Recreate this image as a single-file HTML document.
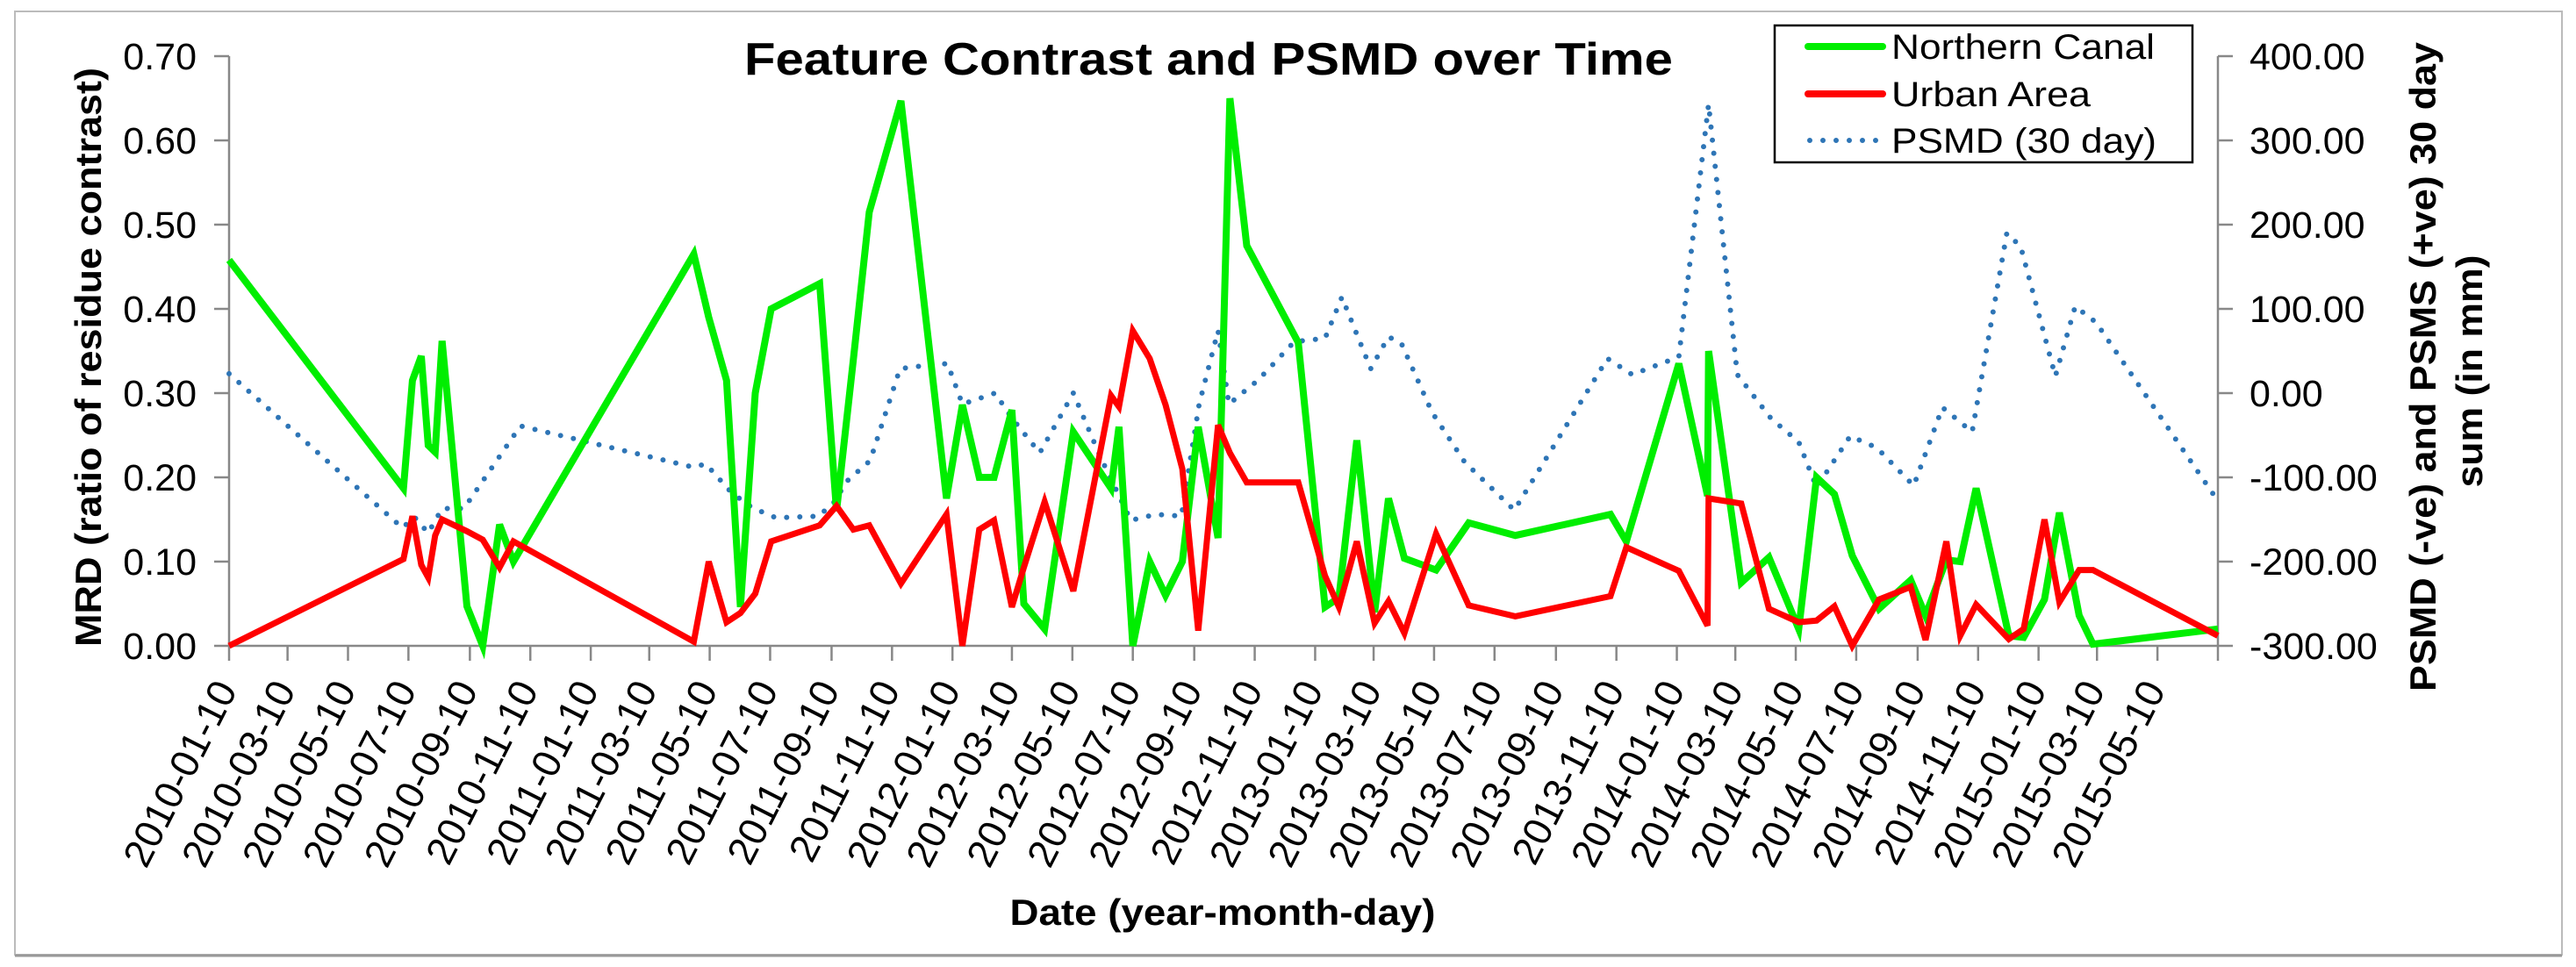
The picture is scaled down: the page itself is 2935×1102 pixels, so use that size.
<!DOCTYPE html>
<html><head><meta charset="utf-8"><style>
html,body{margin:0;padding:0;background:#fff;}
svg{display:block;font-family:"Liberation Sans",Arial,sans-serif;}
</style></head><body>
<svg id="chart" width="2935" height="1102" viewBox="0 0 2935 1102" xmlns="http://www.w3.org/2000/svg">
<rect x="17" y="13" width="2902" height="1075" fill="#fff" stroke="#bbb" stroke-width="2"/>
<line x1="17" y1="1089" x2="2919" y2="1089" stroke="#999" stroke-width="3"/>
<text x="1377" y="85" text-anchor="middle" font-size="52" font-weight="bold" textLength="1058" lengthAdjust="spacingAndGlyphs">Feature Contrast and PSMD over Time</text>
<g id="axes"></g>
<g id="series"></g>
<text transform="translate(115,407) rotate(-90)" text-anchor="middle" font-size="42" font-weight="bold" textLength="660" lengthAdjust="spacingAndGlyphs">MRD (ratio of residue contrast)</text>
<text transform="translate(2775,418) rotate(-90)" text-anchor="middle" font-size="42" font-weight="bold" textLength="740" lengthAdjust="spacingAndGlyphs">PSMD (-ve) and PSMS (+ve) 30 day</text>
<text transform="translate(2828,423) rotate(-90)" text-anchor="middle" font-size="42" font-weight="bold" textLength="265" lengthAdjust="spacingAndGlyphs">sum (in mm)</text>
<text x="1393" y="1054" text-anchor="middle" font-size="42" font-weight="bold" textLength="485" lengthAdjust="spacingAndGlyphs">Date (year-month-day)</text>
<g>
<rect x="2022" y="29" width="476" height="156" fill="#fff" stroke="#000" stroke-width="2.5"/>
<line x1="2060" y1="53" x2="2145" y2="53" stroke="#00ee00" stroke-width="8" stroke-linecap="round"/>
<text x="2155" y="67" font-size="40" textLength="300" lengthAdjust="spacingAndGlyphs">Northern Canal</text>
<line x1="2060" y1="107" x2="2145" y2="107" stroke="#ff0000" stroke-width="8" stroke-linecap="round"/>
<text x="2155" y="121" font-size="40" textLength="227" lengthAdjust="spacingAndGlyphs">Urban Area</text>
<line x1="2062" y1="160" x2="2140" y2="160" stroke="#2e75b6" stroke-width="6" stroke-linecap="round" stroke-dasharray="0 15"/>
<text x="2155" y="174" font-size="40" textLength="302" lengthAdjust="spacingAndGlyphs">PSMD (30 day)</text>
</g>
</svg>
<script>
// ---- data (x = days since 2010-01-10) ----
const canalDays = [0,176,185,194,201,208,215,240,256,273,287,469,484,502,516,531,547,596,613,630,646,678,724,740,757,772,790,802,823,852,890,898,912,929,945,962,978,998,1010,1027,1079,1106,1120,1138,1156,1170,1186,1218,1251,1298,1394,1410,1463,1492,1493,1526,1554,1584,1602,1620,1638,1665,1697,1712,1733,1747,1763,1796,1811,1832,1847,1867,1881,2007];
const canalValues = [0.458,0.187,0.315,0.344,0.238,0.23,0.362,0.047,0.0,0.144,0.10,0.465,0.39,0.315,0.046,0.30,0.40,0.43,0.16,0.34,0.515,0.647,0.175,0.286,0.20,0.20,0.28,0.05,0.02,0.254,0.187,0.26,0.0,0.10,0.06,0.10,0.26,0.128,0.65,0.475,0.36,0.046,0.057,0.244,0.04,0.175,0.104,0.09,0.146,0.131,0.156,0.124,0.335,0.178,0.35,0.075,0.105,0.02,0.20,0.18,0.107,0.044,0.078,0.036,0.102,0.10,0.187,0.012,0.01,0.055,0.158,0.036,0.002,0.02];
const urbanDays = canalDays;
const urbanValues = [0.0,0.103,0.154,0.096,0.081,0.131,0.15,0.136,0.126,0.093,0.124,0.005,0.10,0.028,0.039,0.062,0.124,0.143,0.166,0.138,0.143,0.074,0.156,0.0,0.138,0.149,0.046,0.093,0.171,0.065,0.297,0.284,0.374,0.341,0.286,0.21,0.018,0.262,0.229,0.194,0.194,0.083,0.046,0.124,0.027,0.053,0.015,0.133,0.048,0.035,0.059,0.117,0.089,0.024,0.175,0.169,0.044,0.028,0.03,0.047,0.0,0.055,0.07,0.007,0.124,0.012,0.049,0.008,0.02,0.15,0.052,0.09,0.09,0.012];
const psmdDays = [0,175,187,201,215,237,294,469,481,507,528,552,595,611,623,647,677,704,725,740,773,789,818,852,879,910,935,961,979,998,1009,1038,1075,1106,1123,1152,1170,1183,1214,1247,1297,1391,1416,1463,1493,1522,1556,1584,1602,1636,1663,1700,1729,1759,1794,1808,1843,1863,1884,2007];
const psmdValues = [23,-160,-147,-166,-137,-137,-39,-88,-84,-118,-136,-148,-146,-129,-105,-80,29,33,35,-13,0,-28,-71,0,-75,-151,-144,-146,-13,74,-13,15,61,65,114,29,67,59,-23,-82,-139,41,22,43,343,22,-30,-58,-112,-51,-65,-110,-17,-46,190,174,20,103,84,-128];
const leftTicks = [0,0.1,0.2,0.3,0.4,0.5,0.6,0.7];
const rightTicks = [-300,-200,-100,0,100,200,300,400];

// ---- scales ----
const X0=261,X1=2527,Y0=736,Y1=64,TOTAL_DAYS=2007;
const START=Date.UTC(2010,0,10);
const xScale=d=>X0+(d/TOTAL_DAYS)*(X1-X0);
const yL=v=>Y0-(v/0.7)*(Y0-Y1);
const yR=v=>Y0-((v+300)/700)*(Y0-Y1);
const NS="http://www.w3.org/2000/svg";
function mk(tag,attrs,parent){const e=document.createElementNS(NS,tag);for(const k in attrs)e.setAttribute(k,attrs[k]);parent.appendChild(e);return e;}
const axes=document.getElementById('axes');
const series=document.getElementById('series');

let a=mk('line',{x1:X0,y1:Y1,x2:X0,y2:Y0,stroke:'#888','stroke-width':2.5},axes);


a=mk('line',{x1:X1,y1:Y1,x2:X1,y2:Y0,stroke:'#888','stroke-width':2.5},axes);


a=mk('line',{x1:X0,y1:Y0,x2:X1,y2:Y0,stroke:'#888','stroke-width':2.5},axes);



leftTicks.forEach(v=>{
  const y=yL(v);
  mk('line',{x1:X0-17,y1:y,x2:X0,y2:y,stroke:'#888','stroke-width':2.5},axes);
  const t=mk('text',{x:224,y:y+15,'text-anchor':'end','font-size':43},axes);
  
  
  t.textContent=v.toFixed(2);
});
rightTicks.forEach(v=>{
  const y=yR(v);
  mk('line',{x1:X1,y1:y,x2:X1+17,y2:y,stroke:'#888','stroke-width':2.5},axes);
  const t=mk('text',{x:2563,y:y+15,'font-size':43},axes);
  
  
  t.textContent=v.toFixed(2);
});
for(let i=0;i<=33;i++){
  const dt=new Date(Date.UTC(2010,i*2,10));
  const d=(dt-START)/86400000;
  const x=xScale(d);
  mk('line',{x1:x,y1:Y0,x2:x,y2:Y0+17,stroke:'#888','stroke-width':2.5},axes);
  if(i<33){
    const lbl=dt.getUTCFullYear()+'-'+String(dt.getUTCMonth()+1).padStart(2,'0')+'-10';
    const t=mk('text',{transform:`translate(${x+10},${786}) rotate(-63)`,'text-anchor':'end','font-size':45},axes);
    
    
    t.textContent=lbl;
  }
}

function path(days,vals,ys){return days.map((d,i)=>(i?'L':'M')+xScale(d).toFixed(1)+' '+ys(vals[i]).toFixed(1)).join(' ');}
let p=mk('path',{d:path(psmdDays,psmdValues,yR),fill:'none',stroke:'#2e75b6','stroke-width':6,'stroke-linecap':'round','stroke-dasharray':'0 15'},series);


p=mk('path',{d:path(canalDays,canalValues,yL),fill:'none',stroke:'#00ee00','stroke-width':8,'stroke-linejoin':'miter'},series);


p=mk('path',{d:path(urbanDays,urbanValues,yL),fill:'none',stroke:'#ff0000','stroke-width':7,'stroke-linejoin':'miter'},series);


</script>
</body></html>
